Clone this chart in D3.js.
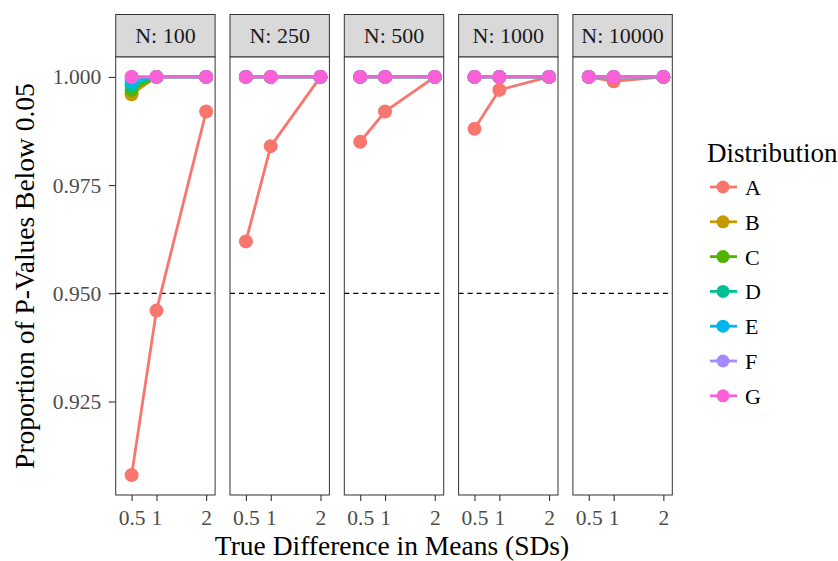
<!DOCTYPE html>
<html>
<head>
<meta charset="utf-8">
<script src="https://cdn.jsdelivr.net/npm/d3@7"></script>
<style>
  html, body { margin: 0; padding: 0; background: #fff; }
  svg { display: block; font-family: "Liberation Serif", "Times New Roman", serif; }
</style>
</head>
<body>
<div id="chart"></div>
<script>
(function () {
    // data
    const sampleSizes = [100, 250, 500, 1000, 10000];
    const diffs = [0.5, 1, 2];
    const distributions = ["A", "B", "C", "D", "E", "F", "G"];
    const colors = ["#F8766D", "#C49A00", "#53B400", "#00C094", "#00B6EB", "#A58AFF", "#FB61D7"];

    // one row per sample size, one value per difference
    const valuesA = [[0.908, 0.946, 0.992], [0.962, 0.984, 1], [0.985, 0.992, 1], [0.988, 0.997, 1], [1, 0.999, 1]];
    const valuesB = [[0.996, 1, 1], [1, 1, 1], [1, 1, 1], [1, 1, 1], [1, 1, 1]];
    const valuesC = [[0.997, 1, 1], [1, 1, 1], [1, 1, 1], [1, 1, 1], [1, 1, 1]];
    const valuesD = [[0.998, 1, 1], [1, 1, 1], [1, 1, 1], [1, 1, 1], [1, 1, 1]];
    const valuesE = [[0.999, 1, 1], [1, 1, 1], [1, 1, 1], [1, 1, 1], [1, 1, 1]];
    const valuesF = [[1, 1, 1], [1, 1, 1], [1, 1, 1], [1, 1, 1], [1, 1, 1]];
    const valuesG = [[1, 1, 1], [1, 1, 1], [1, 1, 1], [1, 1, 1], [1, 1, 1]];
    const allValues = [valuesA, valuesB, valuesC, valuesD, valuesE, valuesF, valuesG];

    const yTicks = [0.925, 0.95, 0.975, 1.0];
    const threshold = 0.95;

    const width = 838, height = 561;
    const panelLeft = 115.7, panelStep = 114.3, panelW = 99.4;
    const stripTop = 14.5, stripBottom = 57, panelBottom = 495;

    const svg = d3.select("#chart").append("svg")
        .attr("width", width)
        .attr("height", height);

    const x = d3.scaleLinear().domain([0.18, 2.18]).range([0, panelW]);
    const y = d3.scaleLinear().domain([0.9034, 1.0046]).range([panelBottom, stripBottom]);
    const color = d3.scaleOrdinal().domain(distributions).range(colors);

    const line = d3.line().x(d => x(d.diff)).y(d => y(d.value));

    sampleSizes.forEach((n, i) => {
        const px = panelLeft + i * panelStep;
        const g = svg.append("g").attr("transform", `translate(${px},0)`);

        // strip
        g.append("rect")
            .attr("x", 0).attr("y", stripTop)
            .attr("width", panelW).attr("height", stripBottom - stripTop)
            .attr("fill", "#d9d9d9")
            .attr("stroke", "#333").attr("stroke-width", 1);
        g.append("text")
            .attr("x", panelW / 2).attr("y", (stripTop + stripBottom) / 2)
            .attr("dy", "0.35em")
            .attr("text-anchor", "middle")
            .attr("fill", "#1a1a1a")
            .style("font-size", "22px")
            .text("N: " + n);

        // panel background
        g.append("rect")
            .attr("x", 0).attr("y", stripBottom)
            .attr("width", panelW).attr("height", panelBottom - stripBottom)
            .attr("fill", "#fff");

        // dashed threshold line
        g.append("line")
            .attr("x1", 0).attr("x2", panelW)
            .attr("y1", y(threshold)).attr("y2", y(threshold))
            .attr("stroke", "#000")
            .attr("stroke-width", 1.2)
            .attr("stroke-dasharray", "5,4");

        distributions.forEach((dist, k) => {
            const pts = diffs.map((d, j) => ({ diff: d, value: allValues[k][i][j] }));
            const sg = g.append("g");
            sg.append("path")
                .datum(pts)
                .attr("d", line)
                .attr("fill", "none")
                .attr("stroke", color(dist))
                .attr("stroke-width", 2.8);
            sg.selectAll("circle")
                .data(pts)
                .enter()
                .append("circle")
                .attr("cx", d => x(d.diff))
                .attr("cy", d => y(d.value))
                .attr("r", 7)
                .attr("fill", color(dist));
        });

        // panel border
        g.append("rect")
            .attr("x", 0).attr("y", stripBottom)
            .attr("width", panelW).attr("height", panelBottom - stripBottom)
            .attr("fill", "none")
            .attr("stroke", "#333").attr("stroke-width", 1);

        // x axis
        const xAxis = g.append("g")
            .attr("transform", `translate(0,${panelBottom})`)
            .call(d3.axisBottom(x).tickValues(diffs).tickFormat(d3.format("")).tickSize(6).tickSizeOuter(0));
        xAxis.select(".domain").remove();
        xAxis.selectAll("line").attr("stroke", "#333").attr("stroke-width", 1.1);
        xAxis.selectAll("text")
            .attr("fill", "#4d4d4d")
            .attr("y", 30)
            .attr("dy", null)
            .style("font-size", "21.5px")
            .style("font-family", "'Liberation Serif', serif");
    });

    // y axis on the first panel
    const yAxis = svg.append("g")
        .attr("transform", `translate(${panelLeft},0)`)
        .call(d3.axisLeft(y).tickValues(yTicks).tickFormat(d3.format(".3f")).tickSize(7).tickSizeOuter(0));
    yAxis.select(".domain").remove();
    yAxis.selectAll("line").attr("stroke", "#333").attr("stroke-width", 1.1);
    yAxis.selectAll("text")
        .attr("fill", "#4d4d4d")
        .attr("x", -14.5)
        .style("font-size", "21.5px")
        .style("font-family", "'Liberation Serif', serif");

    // axis titles
    svg.append("text")
        .attr("x", 392).attr("y", 555)
        .attr("text-anchor", "middle")
        .style("font-size", "27.5px")
        .text("True Difference in Means (SDs)");
    svg.append("text")
        .attr("transform", `translate(34,${(stripBottom + panelBottom) / 2}) rotate(-90)`)
        .attr("text-anchor", "middle")
        .style("font-size", "27.5px")
        .text("Proportion of P-Values Below 0.05");

    // legend
    const legend = svg.append("g").attr("transform", "translate(707,0)");
    legend.append("text")
        .attr("x", 0).attr("y", 162)
        .style("font-size", "27px")
        .text("Distribution");
    const items = legend.selectAll("g.item")
        .data(distributions)
        .enter()
        .append("g")
        .attr("class", "item")
        .attr("transform", (d, i) => `translate(0,${187 + i * 34.8})`);
    items.append("line")
        .attr("x1", 3).attr("x2", 30)
        .attr("stroke", d => color(d))
        .attr("stroke-width", 2.8);
    items.append("circle")
        .attr("cx", 16).attr("r", 6.5)
        .attr("fill", d => color(d));
    items.append("text")
        .attr("x", 38).attr("y", 8)
        .style("font-size", "22px")
        .text(d => d);
})();
</script>
</body>
</html>
